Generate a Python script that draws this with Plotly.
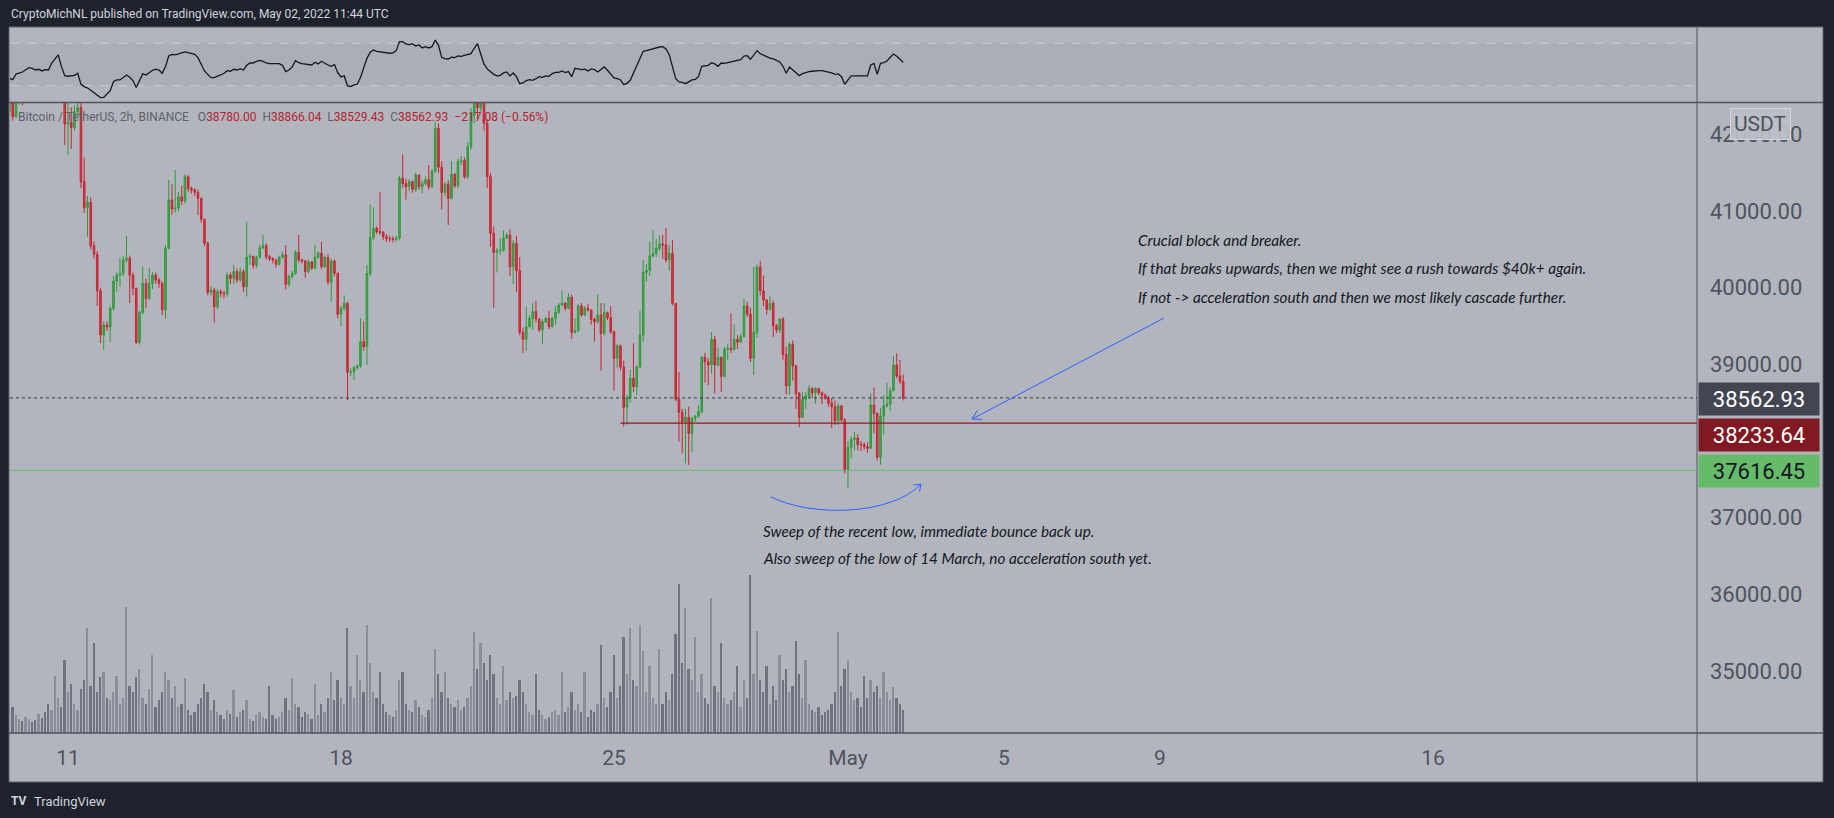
import plotly.graph_objects as go
import pandas as pd

W, H = 1834, 818


def px(x):
    return x / W


def py(y):
    return 1 - y / H


# ---------------- data ----------------
bar_start = "2022-04-09 12:00"
bar_step = "2h"
first_open = 42300.0

closes = [
    42550, 42232, 42620, 42700, 42650, 42780, 42850, 42800, 42750, 42820, 42760, 42700,
    42650, 42720, 42900, 43050, 42900, 42133, 42160, 42090, 42300, 42350, 41384, 41045,
    41115, 40549, 40436, 39961, 39383, 39514, 39488, 39732, 40088, 40166, 40188, 40362,
    40384, 40166, 39992, 39287, 39679, 40058, 39862, 40058, 40166, 40101, 40058, 39710,
    40516, 41145, 41028, 41040, 41188, 41132, 41449, 41297, 41275, 41245, 41167, 40893,
    40580, 39940, 39970, 39753, 39949, 39931, 39920, 40166, 40120, 40210, 40101, 40210,
    40013, 40397, 40410, 40293, 40397, 40523, 40549, 40405, 40380, 40362, 40306, 40397,
    40430, 40045, 40145, 40188, 40462, 40362, 40350, 40210, 40336, 40258, 40397, 40449,
    40275, 40397, 40075, 40349, 40188, 39653, 39732, 39797, 38897, 38900, 38958, 38979,
    39296, 39231, 40188, 40658, 40776, 40732, 40723, 40667, 40640, 40640, 40630, 40650,
    41428, 41360, 41319, 41384, 41284, 41471, 41319, 41360, 41410, 41319, 41523, 42080,
    41571, 41245, 41350, 41167, 41480, 41332, 41645, 41660, 41449, 41841, 42250, 42600,
    42350, 42700, 42150, 41450, 40710, 40462, 40483, 40490, 40645, 40688, 40275, 40580,
    40223, 39418, 39327, 39492, 39601, 39688, 39592, 39449, 39557, 39600, 39492, 39601,
    39679, 39775, 39800, 39732, 39875, 39418, 39440, 39762, 39645, 39732, 39710, 39588,
    39557, 39645, 39405, 39675, 39610, 39427, 39079, 39240, 38966, 38440, 38570, 38818,
    38709, 38966, 39383, 40201, 40230, 40414, 40449, 40514, 40571, 40560, 40362, 40449,
    39797, 38544, 38374, 38252, 38309, 38100, 38296, 38326, 38382, 39092, 39035, 38992,
    39327, 38992, 39092, 38844, 39197, 39210, 39197, 39327, 39290, 39362, 39762, 39657,
    39079, 39418, 40271, 39961, 39840, 39719, 39797, 39505, 39450, 39592, 39131, 38722,
    39262, 38983, 38622, 38309, 38544, 38587, 38687, 38630, 38687, 38630, 38600, 38557,
    38492, 38448, 38265, 38457, 38274, 37612, 37918, 38022, 38040, 37957, 37950, 37926,
    37905, 38470, 38361, 37787, 38326, 38457, 38483, 38657, 38992, 38848, 38780, 38562.93,
]

highs = [
    42700, 42600, 42700, 42800, 42750, 42850, 42950, 42900, 42850, 42900, 42860, 42800,
    42750, 42800, 43000, 43150, 43100, 42950, 42480, 42356, 42380, 42420, 42420, 41700,
    41200, 41180, 40600, 40480, 40000, 39560, 39560, 39760, 40150, 40200, 40388, 40420,
    40679, 40420, 40200, 40000, 39700, 40275, 40120, 40258, 40200, 40200, 40130, 40080,
    40560, 41406, 41350, 41537, 41250, 41330, 41480, 41470, 41320, 41300, 41280, 41180,
    40900, 40600, 40020, 40000, 39980, 39980, 39960, 40200, 40200, 40300, 40250, 40260,
    40240, 40862, 40450, 40420, 40420, 40560, 40688, 40580, 40430, 40400, 40380, 40420,
    40470, 40558, 40170, 40220, 40490, 40688, 40380, 40360, 40370, 40350, 40560, 40480,
    40600, 40420, 40440, 40380, 40370, 40200, 39760, 39900, 39820, 38950, 38980, 39000,
    39601, 39560, 40300, 41089, 41050, 40800, 41253, 40740, 40700, 40680, 40670, 40680,
    41460, 41741, 41420, 41420, 41400, 41500, 41480, 41400, 41450, 41600, 41550, 42167,
    42145, 41650, 41380, 41400, 41650, 41500, 41680, 41720, 41700, 41900, 42350, 42900,
    42700, 42950, 42750, 42200, 41500, 40800, 40520, 40650, 40750, 40720, 40760, 40620,
    40680, 40400, 39480, 39750, 39640, 39800, 39830, 39600, 39590, 39620, 39700, 39620,
    39760, 39800, 39960, 39810, 39930, 39910, 39600, 39790, 39800, 39760, 39790, 39720,
    39610, 39918, 39800, 39800, 39690, 39760, 39440, 39270, 39260, 39050, 38600, 38930,
    39275, 38990, 39700, 40362, 40310, 40600, 40754, 40640, 40680, 40690, 40780, 40560,
    40620, 39800, 38900, 38420, 38420, 38450, 38320, 38340, 38470, 39110, 39150, 39080,
    39420, 39370, 39220, 39100, 39230, 39270, 39666, 39520, 39380, 39400, 39860, 39820,
    39740, 40270, 40300, 40353, 40160, 39850, 39890, 39830, 39530, 39600, 39620, 39230,
    39290, 39310, 38990, 38640, 38640, 38640, 38730, 38700, 38700, 38690, 38650, 38620,
    38590, 38560, 38530, 38490, 38470, 38300, 38000, 38060, 38120, 38090, 38000, 37980,
    37980, 38622, 38700, 38370, 38430, 38600, 38760, 38700, 39109, 39144, 39057, 38866.04,
]

lows = [
    42250, 42180, 42220, 42390, 42380, 42600, 42700, 42720, 42650, 42700, 42680, 42600,
    42560, 42600, 42650, 42850, 42700, 41863, 41732, 41811, 42050, 42250, 41300, 40980,
    40666, 40500, 40380, 39762, 39279, 39188, 39440, 39292, 39700, 39950, 40013, 40150,
    40330, 39801, 39900, 39266, 39260, 39650, 39730, 39840, 39980, 40050, 40000, 39644,
    39600, 40500, 40950, 40980, 41000, 41080, 41100, 41250, 41230, 41200, 40950, 40850,
    40540, 39900, 39900, 39544, 39720, 39880, 39860, 39880, 40050, 40050, 40060, 40080,
    39950, 39884, 40300, 40250, 40260, 40380, 40500, 40370, 40350, 40320, 40260, 40290,
    40380, 39975, 40010, 40120, 40170, 40330, 40320, 40130, 40190, 40230, 40240, 40380,
    40240, 40260, 40040, 39823, 40150, 39600, 39500, 39700, 38535, 38850, 38800, 38930,
    38950, 39180, 38990, 40150, 40620, 40700, 40690, 40620, 40600, 40600, 40590, 40600,
    40620, 41300, 41150, 41260, 41240, 41250, 41280, 41230, 41340, 41280, 41300, 41500,
    41500, 41020, 41200, 40819, 41150, 41300, 41300, 41600, 41420, 41420, 41800, 42150,
    42200, 42300, 42050, 41300, 40536, 39740, 40200, 40430, 40470, 40640, 40150, 40050,
    39950, 39380, 39150, 39180, 39480, 39450, 39550, 39420, 39270, 39540, 39460, 39480,
    39520, 39660, 39760, 39700, 39720, 39330, 39400, 39420, 39620, 39630, 39690, 39520,
    39300, 39530, 38917, 39380, 39580, 39400, 38656, 38950, 38920, 38187, 38209, 38500,
    38640, 38600, 38950, 39300, 40080, 40150, 40400, 40400, 40480, 40380, 40330, 40220,
    39770, 38520, 37991, 37839, 37709, 37687, 37850, 38250, 38300, 38360, 38760, 38730,
    38880, 38620, 38970, 38640, 38830, 39060, 39150, 39180, 39200, 39280, 39350, 39620,
    39030, 38860, 39350, 39900, 39760, 39650, 39700, 39360, 39410, 39410, 39060, 38610,
    38610, 38790, 38420, 38180, 38300, 38420, 38560, 38560, 38490, 38600, 38480, 38540,
    38450, 38170, 38210, 38210, 38250, 37578, 37383, 37770, 37880, 37880, 37870, 37890,
    37850, 37900, 38100, 37750, 37690, 38080, 38440, 38390, 38650, 38820, 38740, 38529.43,
]

volumes = [
    1000, 1100, 750, 600, 500, 700, 600, 450, 550, 800, 650, 900,
    1250, 1000, 2450, 1500, 1100, 3100, 1750, 2100, 1250, 1000, 1900, 2250,
    4500, 2000, 3850, 1750, 2400, 2600, 1500, 1400, 1750, 2450, 1250, 1500,
    5400, 2000, 1750, 2400, 2750, 1500, 1250, 1900, 3350, 1100, 1400, 1750,
    2600, 2250, 1500, 2000, 1100, 1250, 2350, 1000, 750, 900, 1250, 1500,
    2100, 1750, 1000, 1400, 900, 750, 600, 1000, 800, 1850, 700, 900,
    1000, 1400, 600, 500, 750, 900, 700, 600, 2000, 750, 600, 700,
    900, 1500, 1000, 2350, 1250, 1100, 700, 900, 800, 600, 2100, 750,
    1250, 900, 1500, 2600, 1400, 2250, 1500, 1250, 4500, 2000, 1500, 3350,
    2250, 1750, 4600, 3000, 1750, 1500, 2600, 1250, 900, 750, 700, 1000,
    2250, 2600, 1250, 1000, 900, 1400, 1100, 750, 700, 1000, 1500, 3600,
    2500, 1750, 2600, 1500, 1250, 1100, 1400, 1000, 1100, 1500, 2000, 4300,
    2750, 3850, 3000, 2250, 3350, 2500, 1500, 1250, 2850, 1400, 1750, 1500,
    1600, 2250, 1750, 1250, 900, 750, 2500, 1000, 750, 600, 700, 900,
    1000, 750, 2600, 900, 1100, 1750, 1000, 1250, 900, 2600, 700, 1000,
    900, 1250, 3750, 1500, 1100, 1750, 3350, 1500, 2000, 4100, 2500, 4500,
    2250, 2000, 4600, 3500, 1750, 2850, 1500, 1250, 3600, 1250, 1750, 1400,
    2500, 4250, 6350, 3000, 5350, 2750, 2250, 4100, 1750, 2500, 1500, 1250,
    5750, 2000, 1750, 3850, 1500, 1250, 1400, 1750, 2850, 1100, 2250, 1500,
    6750, 2500, 4350, 2250, 1750, 2850, 1250, 2000, 1400, 3350, 2250, 2750,
    1750, 2000, 3950, 2500, 1500, 3100, 1250, 1000, 900, 1100, 750, 900,
    1000, 1250, 1750, 4300, 2000, 2750, 3100, 1750, 1400, 1500, 1100, 2450,
    1500, 2250, 1750, 2000, 1500, 2600, 1750, 1400, 1950, 1500, 1250, 1000,
]

rsi_values = [
    37.0, 35.7, 41.0, 42.0, 42.9, 45.1, 47.0, 46.4, 44.8, 45.5, 43.9, 45.1,
    44.8, 51.4, 54.9, 59.0, 48.0, 39.5, 38.9, 39.2, 39.8, 41.7, 31.3, 29.1,
    27.8, 25.6, 23.4, 21.2, 18.7, 19.0, 22.2, 25.3, 33.8, 35.4, 35.4, 37.9,
    40.1, 37.9, 34.8, 28.2, 34.8, 41.1, 40.1, 42.0, 44.5, 45.5, 44.8, 41.7,
    48.0, 58.0, 59.6, 59.0, 59.9, 60.9, 61.8, 61.2, 60.2, 59.6, 56.5, 49.9,
    43.9, 40.7, 37.6, 37.6, 38.5, 40.1, 41.7, 44.2, 43.6, 45.5, 44.8, 46.1,
    44.8, 49.2, 51.4, 51.4, 53.0, 53.9, 53.0, 51.4, 50.8, 50.8, 51.1, 50.8,
    49.2, 43.3, 44.8, 47.7, 53.6, 51.7, 50.8, 50.2, 50.2, 49.5, 52.1, 50.5,
    53.0, 51.1, 49.5, 48.3, 49.9, 42.3, 38.2, 39.2, 30.0, 29.1, 30.7, 31.3,
    37.6, 47.0, 55.8, 61.5, 63.7, 62.4, 61.8, 61.2, 60.9, 60.6, 60.9, 63.1,
    71.6, 71.6, 69.4, 68.7, 69.7, 67.5, 68.4, 65.6, 66.8, 65.6, 66.8, 73.1,
    68.1, 56.5, 55.5, 55.2, 56.8, 56.5, 58.0, 57.7, 58.7, 59.3, 60.2, 65.3,
    69.7, 59.9, 50.5, 45.8, 43.3, 40.7, 39.2, 39.8, 42.0, 42.9, 39.2, 42.0,
    38.5, 31.9, 32.6, 34.8, 35.7, 35.1, 36.6, 38.5, 37.9, 39.2, 38.8, 41.4,
    42.6, 42.6, 43.9, 42.3, 43.3, 38.5, 46.4, 45.5, 45.1, 45.5, 43.9, 45.8,
    45.1, 42.9, 45.5, 47.7, 44.5, 41.1, 37.3, 36.6, 35.4, 31.0, 32.2, 35.1,
    42.0, 48.9, 55.8, 62.4, 63.1, 64.0, 65.0, 65.9, 66.5, 66.8, 64.6, 59.3,
    48.6, 36.6, 33.5, 33.2, 31.9, 33.5, 35.4, 36.0, 38.5, 48.3, 48.9, 49.2,
    51.7, 50.5, 48.3, 51.4, 51.1, 51.7, 52.1, 52.7, 53.6, 54.6, 58.0, 58.3,
    54.9, 58.7, 63.1, 60.2, 58.7, 57.4, 56.1, 55.2, 53.9, 52.4, 48.3, 41.7,
    47.7, 44.8, 42.0, 39.5, 41.4, 42.6, 43.3, 43.6, 44.2, 44.2, 44.2, 43.6,
    42.9, 42.0, 40.7, 41.1, 38.5, 31.3, 35.4, 39.2, 39.2, 39.2, 38.8, 38.8,
    39.2, 49.5, 51.1, 40.7, 51.1, 51.7, 53.3, 56.8, 59.9, 57.7, 54.9, 52.1,
]

# 38000.00 is hidden behind the price labels in the reference, so it is not listed
price_ticks = [35000, 36000, 37000, 39000, 40000, 41000, 42000]
price_tick_labels = ["35000.00", "36000.00", "37000.00",
                     "39000.00", "40000.00", "41000.00", "42000.00"]
date_ticks = ["2022-04-11", "2022-04-18", "2022-04-25", "2022-05-01",
              "2022-05-05", "2022-05-09", "2022-05-16"]
date_tick_labels = ["11", "18", "25", "May", "5", "9", "16"]

last_price = 38562.93
block_level = 38233.64
sweep_level = 37616.45
block_start = "2022-04-25 04:00"

x_range = ["2022-04-09 12:19", "2022-05-22 18:29"]
price_range = [34190, 42411]
rsi_range = [14.3, 85.1]

# -------------- derived --------------
times = pd.date_range(bar_start, periods=len(closes), freq=bar_step)
opens = [first_open] + closes[:-1]

BG_DARK = "#1e222d"
BG_CHART = "#b2b5be"
AXIS_TXT = "#50535e"
LINE_DARK = "#4f525c"
FONT = "Roboto, Open Sans, sans-serif"

fig = go.Figure()

# RSI
fig.add_trace(go.Scatter(
    x=times, y=rsi_values, mode="lines",
    line=dict(color="#131722", width=1.3),
    xaxis="x", yaxis="y2", hoverinfo="skip", showlegend=False))

# Candles
fig.add_trace(go.Candlestick(
    x=times, open=opens, high=highs, low=lows, close=closes,
    increasing=dict(line=dict(color="#2e9b38", width=1), fillcolor="#4f9f55"),
    decreasing=dict(line=dict(color="#cc2230", width=1), fillcolor="#c2454f"),
    whiskerwidth=0, xaxis="x", yaxis="y", showlegend=False, hoverinfo="skip"))

# Volume
vol_colors = ["#8b8e98" if c >= o else "#70737d" for o, c in zip(opens, closes)]
fig.add_trace(go.Bar(
    x=times, y=volumes, marker=dict(color=vol_colors, line=dict(width=0)),
    width=2 * 3600 * 1000 * 0.55, xaxis="x", yaxis="y3",
    showlegend=False, hoverinfo="skip"))

vol_top = max(volumes) * 630 / 158

shapes = []
# chart background
shapes.append(dict(type="rect", xref="paper", yref="paper", layer="below",
                   x0=px(9), x1=px(1823), y0=py(782), y1=py(27),
                   fillcolor=BG_CHART, line=dict(width=0)))
# RSI band
shapes.append(dict(type="rect", xref="x domain", yref="y2", layer="below",
                   x0=0, x1=1, y0=30, y1=70,
                   fillcolor="rgba(80,83,94,0.07)", line=dict(width=0)))
for lvl in (30, 70):
    shapes.append(dict(type="line", xref="x domain", yref="y2", layer="below",
                       x0=0, x1=1, y0=lvl, y1=lvl,
                       line=dict(color="#c8cbd2", width=1, dash="dash")))
# pane separators
shapes.append(dict(type="line", xref="paper", yref="paper",
                   x0=px(9), x1=px(1823), y0=py(102.5), y1=py(102.5),
                   line=dict(color=LINE_DARK, width=1.5)))
shapes.append(dict(type="line", xref="paper", yref="paper",
                   x0=px(9), x1=px(1823), y0=py(733), y1=py(733),
                   line=dict(color=LINE_DARK, width=1.5)))
shapes.append(dict(type="line", xref="paper", yref="paper",
                   x0=px(1697), x1=px(1697), y0=py(782), y1=py(27),
                   line=dict(color=LINE_DARK, width=1)))
shapes.append(dict(type="rect", xref="paper", yref="paper",
                   x0=px(9), x1=px(1823), y0=py(782), y1=py(27),
                   line=dict(color="#5d606b", width=1)))
# price lines
shapes.append(dict(type="line", xref="x domain", yref="y",
                   x0=0, x1=1, y0=last_price, y1=last_price,
                   line=dict(color="#33363f", width=1, dash="dot")))
shapes.append(dict(type="line", xref="x", yref="y",
                   x0=block_start, x1=x_range[1], y0=block_level, y1=block_level,
                   line=dict(color="#8e1b22", width=1.3)))
shapes.append(dict(type="line", xref="x domain", yref="y",
                   x0=0, x1=1, y0=sweep_level, y1=sweep_level,
                   line=dict(color="#6cbd70", width=1)))

BLUE = "#2962ff"
# straight arrow (drawing)
shapes.append(dict(type="line", xref="paper", yref="paper",
                   x0=px(1164), y0=py(318), x1=px(972), y1=py(419),
                   line=dict(color=BLUE, width=1)))
shapes.append(dict(type="line", xref="paper", yref="paper",
                   x0=px(972), y0=py(419), x1=px(982), y1=py(419.4),
                   line=dict(color=BLUE, width=1)))
shapes.append(dict(type="line", xref="paper", yref="paper",
                   x0=px(972), y0=py(419), x1=px(977.3), y1=py(410.5),
                   line=dict(color=BLUE, width=1)))
# curved arrow (drawing)
path = "M {},{} C {},{} {},{} {},{}".format(
    px(770.7), py(496.7), px(810), py(517), px(890), py(516), px(921), py(484.3))
shapes.append(dict(type="path", xref="paper", yref="paper", path=path,
                   line=dict(color=BLUE, width=1)))
shapes.append(dict(type="line", xref="paper", yref="paper",
                   x0=px(921), y0=py(484.3), x1=px(913.5), y1=py(485),
                   line=dict(color=BLUE, width=1)))
shapes.append(dict(type="line", xref="paper", yref="paper",
                   x0=px(921), y0=py(484.3), x1=px(919.5), y1=py(491.5),
                   line=dict(color=BLUE, width=1)))

annotations = []
# header
annotations.append(dict(
    xref="paper", yref="paper", x=px(9), y=py(14), xanchor="left", yanchor="middle",
    text="CryptoMichNL published on TradingView.com, May 02, 2022 11:44 UTC",
    showarrow=False, font=dict(family=FONT, size=12, color="#d1d4dc")))
# legend line
RED = "#b5232f"
GRAY = "#5d606b"
nb = "\u00a0"
legend_txt = (
    "Bitcoin / TetherUS, 2h, BINANCE" + nb * 3 +
    "O<span style='color:{r}'>38780.00</span>".format(r=RED) + nb * 2 +
    "H<span style='color:{r}'>38866.04</span>".format(r=RED) + nb * 2 +
    "L<span style='color:{r}'>38529.43</span>".format(r=RED) + nb * 2 +
    "C<span style='color:{r}'>38562.93</span>".format(r=RED) + nb * 2 +
    "<span style='color:{r}'>\u2212217.08 (\u22120.56%)</span>".format(r=RED))
annotations.append(dict(
    xref="paper", yref="paper", x=px(16), y=py(117.5), xanchor="left", yanchor="middle",
    text=legend_txt, showarrow=False, font=dict(family=FONT, size=12, color=GRAY)))

# comment texts
TXT_FONT = dict(family="Lato, Open Sans, sans-serif", size=15.3, color="#131722")
for txt, yy in [
    ("Crucial block and breaker.", 240),
    ("If that breaks upwards, then we might see a rush towards $40k+ again.", 268),
    ("If not -> acceleration south and then we most likely cascade further.", 297),
]:
    annotations.append(dict(xref="paper", yref="paper", x=px(1136), y=py(yy),
                            xanchor="left", yanchor="middle", text="<i>" + txt + "</i>",
                            showarrow=False, font=TXT_FONT))
for txt, yy in [
    ("Sweep of the recent low, immediate bounce back up.", 531),
    ("Also sweep of the low of 14 March, no acceleration south yet.", 558),
]:
    annotations.append(dict(xref="paper", yref="paper", x=px(760.5), y=py(yy),
                            xanchor="left", yanchor="middle", text="<i>" + txt + "</i>",
                            showarrow=False, font=TXT_FONT))

# price labels on axis
for val, bg, fg, shift in [
    (last_price, "#434651", "#ffffff", -1),
    (block_level, "#801922", "#ffffff", -12),
    (sweep_level, "#66bb6a", "#131722", -1),
]:
    annotations.append(dict(
        xref="paper", yref="y", x=px(1697.5), y=val, xanchor="left", yanchor="middle",
        yshift=shift, text="{:.2f}".format(val), showarrow=False,
        bgcolor=bg, width=120, height=32, borderpad=0, align="center",
        font=dict(family=FONT, size=22, color=fg)))

# USDT badge
annotations.append(dict(
    xref="paper", yref="paper", x=px(1760), y=py(124), xanchor="center", yanchor="middle",
    text="USDT", showarrow=False, bgcolor="rgba(188,191,199,0.92)",
    bordercolor="#d3d6dc", borderwidth=1, borderpad=3,
    font=dict(family=FONT, size=21, color=AXIS_TXT)))

# bottom logo
annotations.append(dict(
    xref="paper", yref="paper", x=px(9), y=py(801), xanchor="left", yanchor="middle",
    text="<b>TV</b>", showarrow=False,
    font=dict(family=FONT, size=12, color="#d1d4dc")))
annotations.append(dict(
    xref="paper", yref="paper", x=px(32), y=py(801), xanchor="left", yanchor="middle",
    text="TradingView", showarrow=False,
    font=dict(family=FONT, size=13, color="#d1d4dc")))

fig.update_layout(
    width=W, height=H, margin=dict(l=0, r=0, t=0, b=0, pad=0),
    paper_bgcolor=BG_DARK, plot_bgcolor="rgba(0,0,0,0)",
    showlegend=False, bargap=0,
    xaxis=dict(domain=[px(10), px(1697)], anchor="y", type="date", range=x_range,
               showgrid=False, zeroline=False, showline=False, ticks="",
               tickmode="array", tickvals=date_ticks, ticktext=date_tick_labels,
               tickfont=dict(family=FONT, size=21, color=AXIS_TXT),
               ticklabelstandoff=10, rangeslider=dict(visible=False),
               automargin=False, fixedrange=True),
    yaxis=dict(domain=[py(733), py(103)], anchor="x", side="right", range=price_range,
               showgrid=False, zeroline=False, showline=False, ticks="",
               tickmode="array", tickvals=price_ticks, ticktext=price_tick_labels,
               tickfont=dict(family=FONT, size=22, color=AXIS_TXT),
               ticklabelstandoff=12, automargin=False, fixedrange=True),
    yaxis2=dict(domain=[py(102.3), py(27.3)], anchor="x", range=rsi_range,
                showgrid=False, zeroline=False, showline=False,
                showticklabels=False, ticks="", automargin=False, fixedrange=True),
    yaxis3=dict(overlaying="y", anchor="x", range=[0, vol_top], visible=False,
                showgrid=False, zeroline=False, fixedrange=True),
    shapes=shapes, annotations=annotations,
)

fig.write_html("out.html")
